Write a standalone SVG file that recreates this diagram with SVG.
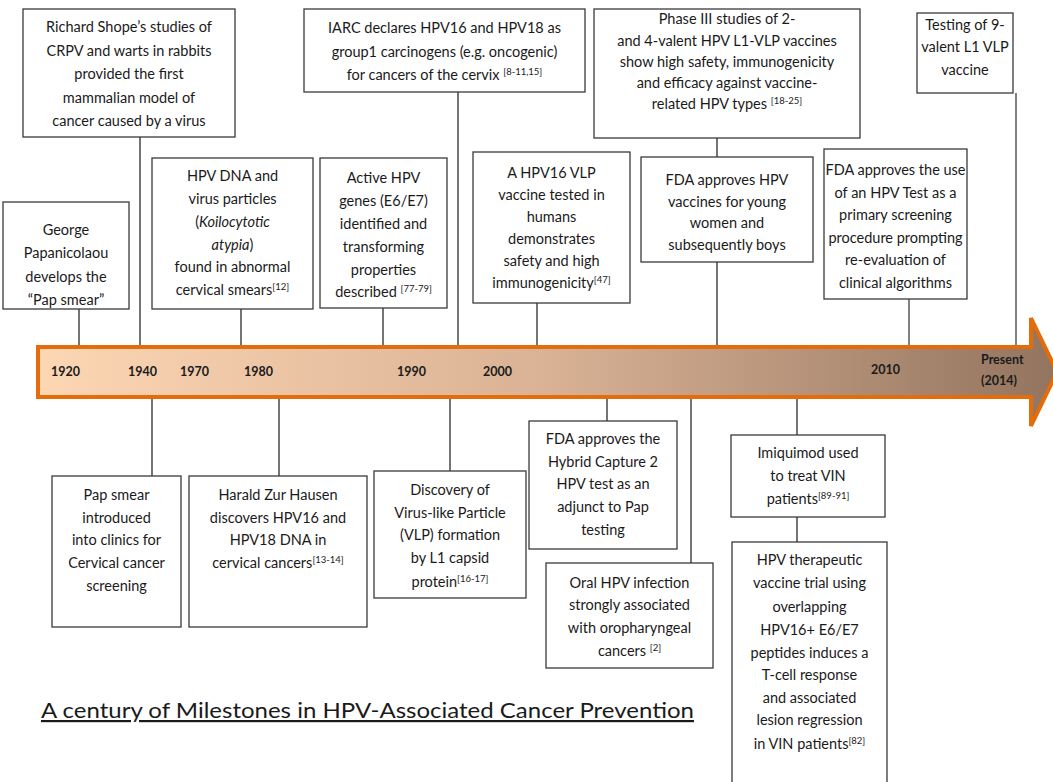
<svg xmlns="http://www.w3.org/2000/svg" width="1053" height="782" viewBox="0 0 1053 782">
<defs>
<linearGradient id="g" x1="0" y1="0" x2="1" y2="0">
<stop offset="0" stop-color="#FDD6B4"/>
<stop offset="0.5" stop-color="#D9B295"/>
<stop offset="1" stop-color="#93745F"/>
</linearGradient>
<style>
.b{fill:#fff;stroke:#3a3a3a;stroke-width:1.3}
.t{font-family:Lato,"Liberation Sans",sans-serif;font-size:14.5px;fill:#1a1a1a;text-anchor:middle}
.s{font-size:9.5px}
.c{stroke:#1a1a1a;stroke-width:1.2;fill:none}
.cg{stroke:#595959;stroke-width:1.5;fill:none}
.y{font-family:Lato,"Liberation Sans",sans-serif;font-size:12.5px;font-weight:bold;fill:#1a1a1a}
</style>
</defs>
<rect width="1053" height="782" fill="#fff"/>
<g id="connectors">
<path class="c" d="M79,309V345M140,137V345M241,309V345M383,308V345M458,92V345M537,303V345M717,138V157M717,262V345"/>
<path class="cg" d="M909,299V345M1016,93V345"/>
<path class="c" d="M152,399V476M279,399V476M450,399V471M607,399V421M691,399V563M797,399V435M797,517V542"/>
</g>
<g id="timeline">
<path d="M38,347H1031V318L1057,372L1031,426V397H38Z" fill="url(#g)" stroke="#E46C0A" stroke-width="4" stroke-linejoin="miter"/>
<text class="y" x="51" y="376">1920</text>
<text class="y" x="128" y="376">1940</text>
<text class="y" x="180" y="376">1970</text>
<text class="y" x="244" y="376">1980</text>
<text class="y" x="397" y="376">1990</text>
<text class="y" x="483" y="376">2000</text>
<text class="y" x="871" y="374">2010</text>
<text class="y" x="981" y="364">Present</text>
<text class="y" x="981" y="385">(2014)</text>
</g>
<g id="n-george">
<rect class="b" x="3" y="202" width="126" height="107"/>
<text class="t" x="66"><tspan x="66" y="235">George</tspan><tspan x="66" y="258">Papanicolaou</tspan><tspan x="66" y="282">develops the</tspan><tspan x="66" y="305">“Pap smear”</tspan></text>
</g>
<g id="n-shope">
<rect class="b" x="23" y="9" width="212" height="128"/>
<text class="t"><tspan x="129" y="32">Richard Shope’s studies of</tspan><tspan x="129" y="56">CRPV and warts in rabbits</tspan><tspan x="129" y="79">provided the first</tspan><tspan x="129" y="103">mammalian model of</tspan><tspan x="129" y="126">cancer caused by a virus</tspan></text>
</g>
<g id="n-hpvdna">
<rect class="b" x="152" y="158" width="161" height="151"/>
<text class="t"><tspan x="232.5" y="181">HPV DNA and</tspan><tspan x="232.5" y="204">virus particles</tspan><tspan x="232.5" y="227">(<tspan font-style="italic">Koilocytotic</tspan></tspan><tspan x="232.5" y="250"><tspan font-style="italic">atypia</tspan>)</tspan><tspan x="232.5" y="272">found in abnormal</tspan><tspan x="232.5" y="295">cervical smears<tspan class="s" dy="-5">[12]</tspan></tspan></text>
</g>
<g id="n-active">
<rect class="b" x="320" y="158" width="127" height="150"/>
<text class="t"><tspan x="383.5" y="183">Active HPV</tspan><tspan x="383.5" y="206">genes (E6/E7)</tspan><tspan x="383.5" y="229">identified and</tspan><tspan x="383.5" y="252">transforming</tspan><tspan x="383.5" y="275">properties</tspan><tspan x="383.5" y="297">described <tspan class="s" dy="-5">[77-79]</tspan></tspan></text>
</g>
<g id="n-iarc">
<rect class="b" x="304" y="9" width="281" height="83"/>
<text class="t"><tspan x="444.5" y="33">IARC declares HPV16 and HPV18 as</tspan><tspan x="444.5" y="57">group1 carcinogens (e.g. oncogenic)</tspan><tspan x="444.5" y="80">for cancers of the cervix <tspan class="s" dy="-5">[8-11,15]</tspan></tspan></text>
</g>
<g id="n-vlpvaccine">
<rect class="b" x="473" y="152" width="157" height="151"/>
<text class="t"><tspan x="551.5" y="178">A HPV16 VLP</tspan><tspan x="551.5" y="200">vaccine tested in</tspan><tspan x="551.5" y="222">humans</tspan><tspan x="551.5" y="244">demonstrates</tspan><tspan x="551.5" y="266">safety and high</tspan><tspan x="551.5" y="288">immunogenicity<tspan class="s" dy="-5">[47]</tspan></tspan></text>
</g>
<g id="n-phase3">
<rect class="b" x="594" y="9" width="266" height="129"/>
<text class="t"><tspan x="727" y="24">Phase III studies of 2-</tspan><tspan x="727" y="46">and 4-valent HPV L1-VLP vaccines</tspan><tspan x="727" y="67">show high safety, immunogenicity</tspan><tspan x="727" y="88">and efficacy against vaccine-</tspan><tspan x="727" y="109">related HPV types <tspan class="s" dy="-5">[18-25]</tspan></tspan></text>
</g>
<g id="n-fdavaccines">
<rect class="b" x="641" y="157" width="172" height="105"/>
<text class="t"><tspan x="727" y="185">FDA approves HPV</tspan><tspan x="727" y="207">vaccines for young</tspan><tspan x="727" y="228">women  and</tspan><tspan x="727" y="250">subsequently boys</tspan></text>
</g>
<g id="n-fdatest">
<rect class="b" x="824" y="149" width="143" height="150"/>
<text class="t"><tspan x="895.5" y="175">FDA approves the use</tspan><tspan x="895.5" y="198">of an HPV Test as a</tspan><tspan x="895.5" y="220">primary screening</tspan><tspan x="895.5" y="243">procedure  prompting</tspan><tspan x="895.5" y="265">re-evaluation of</tspan><tspan x="895.5" y="288">clinical algorithms</tspan></text>
</g>
<g id="n-9valent">
<rect class="b" x="917" y="13" width="96" height="80"/>
<text class="t"><tspan x="965" y="30">Testing of 9-</tspan><tspan x="965" y="52">valent L1 VLP</tspan><tspan x="965" y="75">vaccine</tspan></text>
</g>
<g id="n-papclinics">
<rect class="b" x="52" y="476" width="129" height="151"/>
<text class="t"><tspan x="116.5" y="500">Pap smear</tspan><tspan x="116.5" y="523">introduced</tspan><tspan x="116.5" y="545">into clinics for</tspan><tspan x="116.5" y="568">Cervical cancer</tspan><tspan x="116.5" y="591">screening</tspan></text>
</g>
<g id="n-harald">
<rect class="b" x="189" y="476" width="178" height="151"/>
<text class="t"><tspan x="278" y="500">Harald Zur Hausen</tspan><tspan x="278" y="523">discovers HPV16 and</tspan><tspan x="278" y="545">HPV18  DNA in</tspan><tspan x="278" y="568">cervical cancers<tspan class="s" dy="-5">[13-14]</tspan></tspan></text>
</g>
<g id="n-vlpdiscovery">
<rect class="b" x="374" y="471" width="152" height="127"/>
<text class="t"><tspan x="450" y="495">Discovery of</tspan><tspan x="450" y="518">Virus-like Particle</tspan><tspan x="450" y="540">(VLP) formation</tspan><tspan x="450" y="563">by L1 capsid</tspan><tspan x="450" y="587">protein<tspan class="s" dy="-5">[16-17]</tspan></tspan></text>
</g>
<g id="n-hybrid">
<rect class="b" x="529" y="421" width="148" height="128"/>
<text class="t"><tspan x="603" y="444">FDA approves the</tspan><tspan x="603" y="467">Hybrid Capture 2</tspan><tspan x="603" y="489">HPV test as an</tspan><tspan x="603" y="512">adjunct to Pap</tspan><tspan x="603" y="535">testing</tspan></text>
</g>
<g id="n-oral">
<rect class="b" x="546" y="563" width="167" height="105"/>
<text class="t"><tspan x="629.5" y="588">Oral HPV infection</tspan><tspan x="629.5" y="610">strongly associated</tspan><tspan x="629.5" y="633">with oropharyngeal</tspan><tspan x="629.5" y="656">cancers <tspan class="s" dy="-5">[2]</tspan></tspan></text>
</g>
<g id="n-imiquimod">
<rect class="b" x="731" y="435" width="154" height="82"/>
<text class="t"><tspan x="808" y="458">Imiquimod  used</tspan><tspan x="808" y="481">to treat VIN</tspan><tspan x="808" y="504">patients<tspan class="s" dy="-5">[89-91]</tspan></tspan></text>
</g>
<g id="n-therapeutic">
<rect class="b" x="732" y="542" width="155" height="260"/>
<text class="t"><tspan x="809.5" y="565">HPV therapeutic</tspan><tspan x="809.5" y="588">vaccine trial using</tspan><tspan x="809.5" y="612">overlapping</tspan><tspan x="809.5" y="635">HPV16+ E6/E7</tspan><tspan x="809.5" y="658">peptides induces a</tspan><tspan x="809.5" y="680">T-cell response</tspan><tspan x="809.5" y="703">and associated</tspan><tspan x="809.5" y="725">lesion regression</tspan><tspan x="809.5" y="749">in VIN patients<tspan class="s" dy="-5">[82]</tspan></tspan></text>
</g>
<g id="title">
<text x="41" y="718" font-family="Lato,'Liberation Sans',sans-serif" font-size="22" fill="#1a1a1a" text-decoration="underline" textLength="653" lengthAdjust="spacingAndGlyphs">A century of Milestones in HPV-Associated Cancer Prevention</text>
</g>
</svg>
